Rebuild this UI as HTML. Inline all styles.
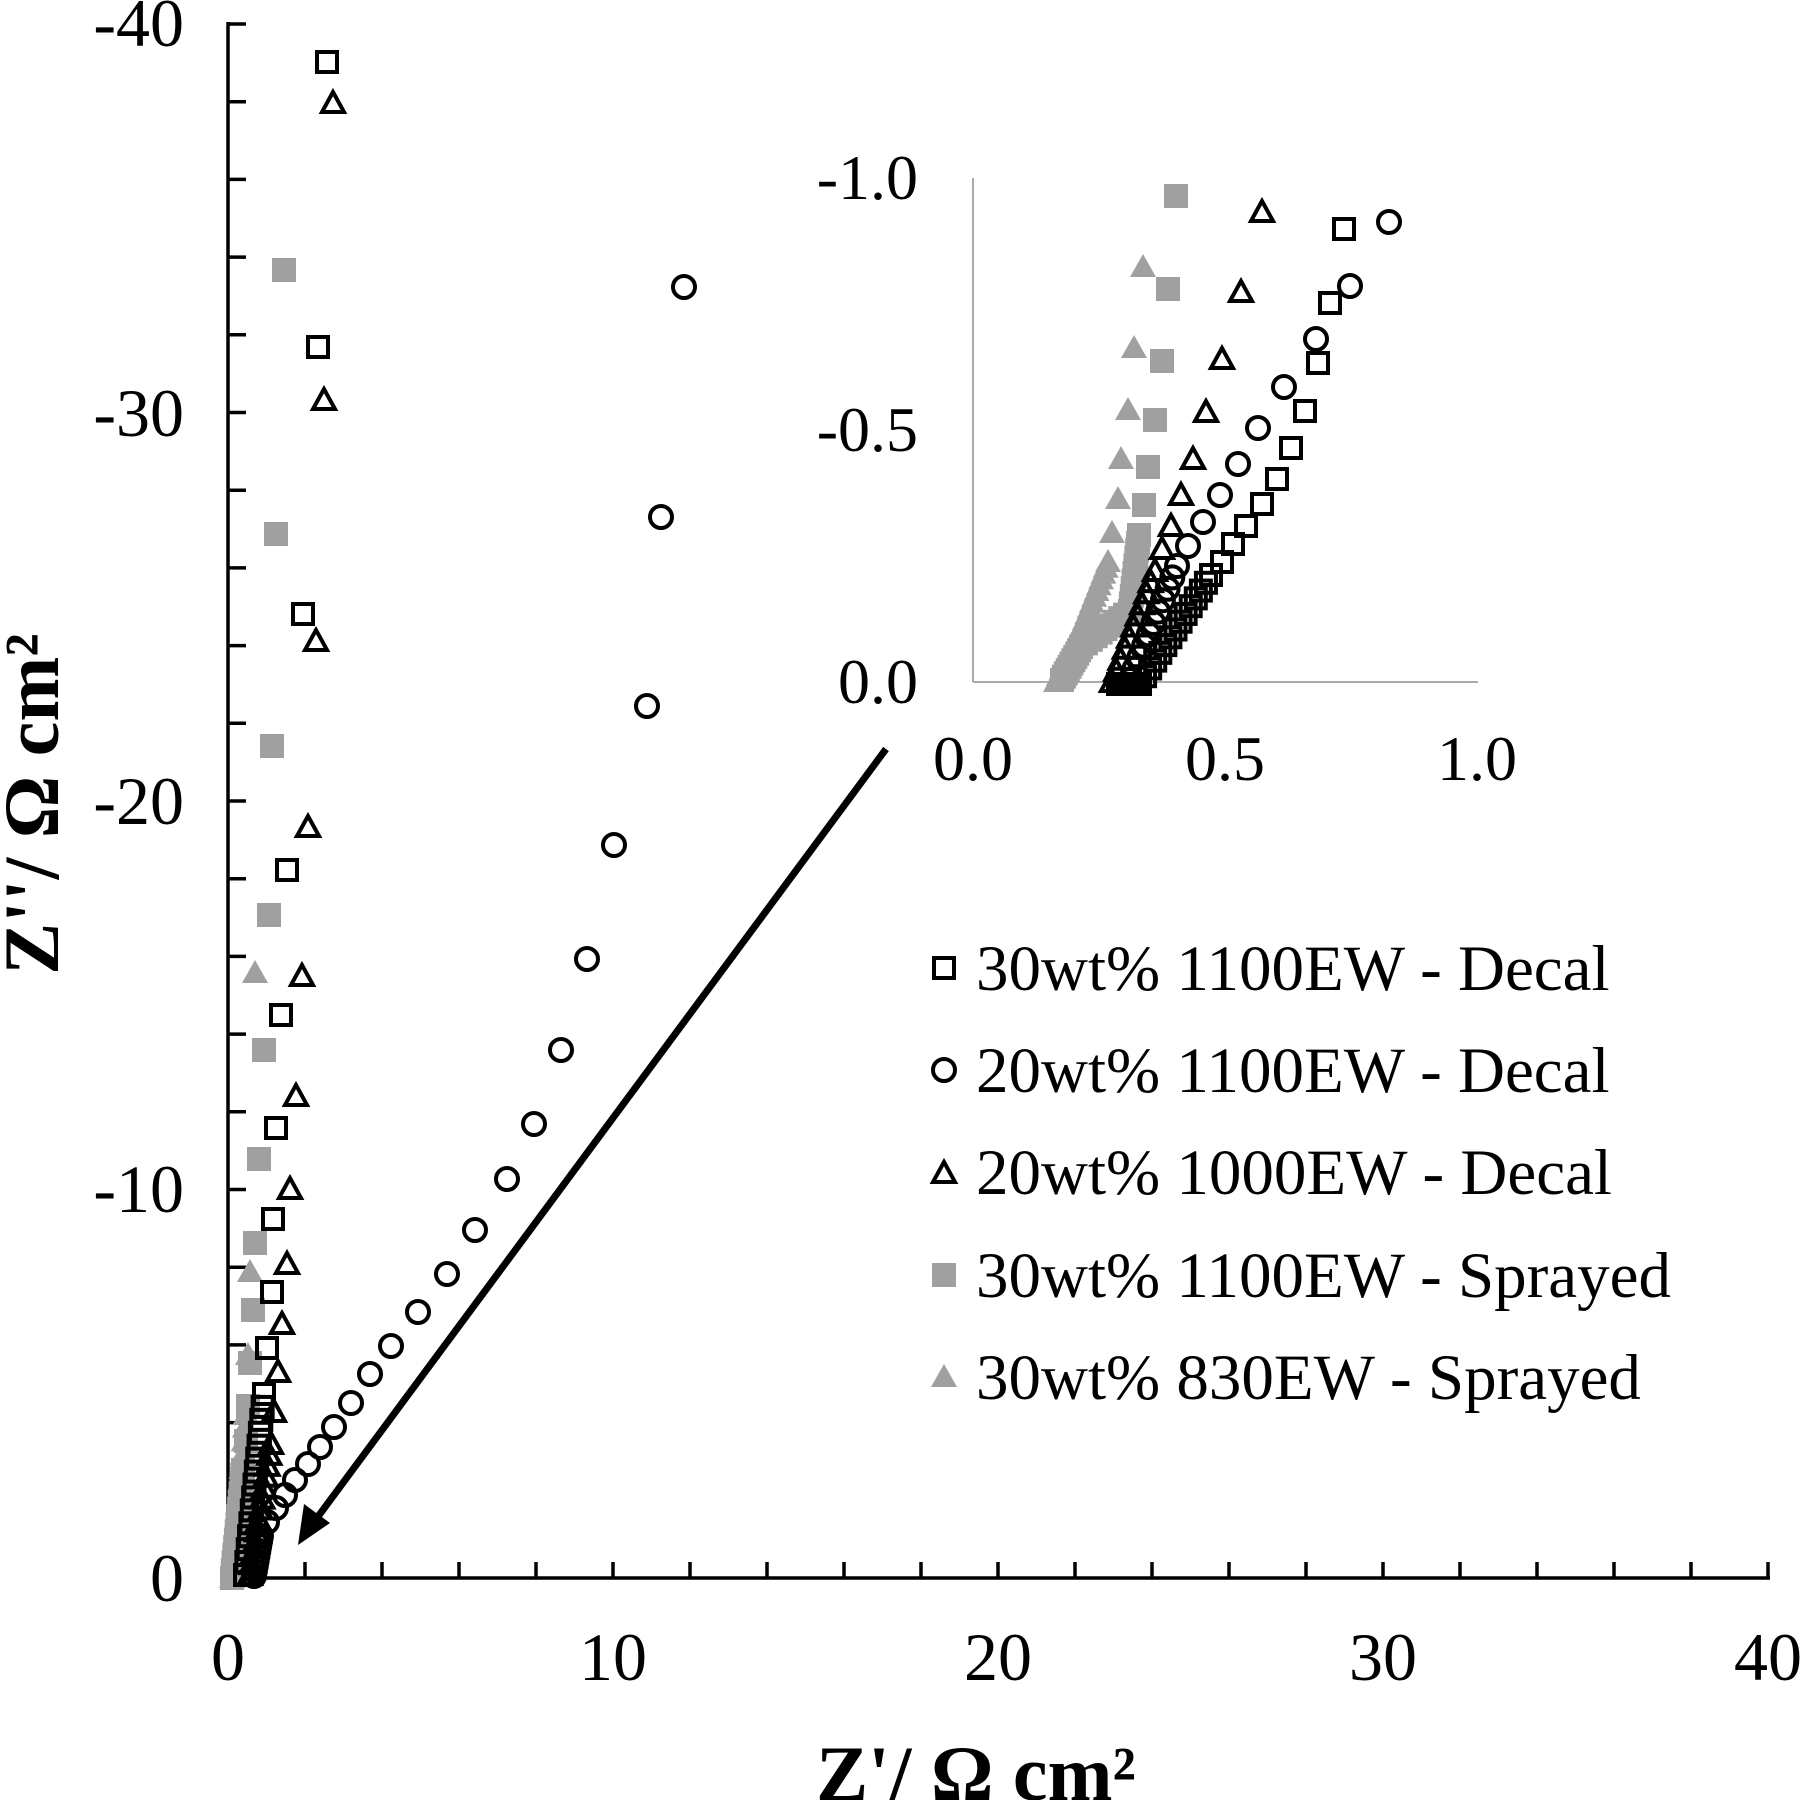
<!DOCTYPE html>
<html><head><meta charset="utf-8"><style>
html,body{margin:0;padding:0;background:#fff}
svg{display:block}
text{font-family:"Liberation Serif",serif}
</style></head><body>
<svg id="s" width="1800" height="1800" viewBox="0 0 1800 1800" xmlns="http://www.w3.org/2000/svg">
<g id="axes" stroke="#000" stroke-width="3.5" fill="none">
<line x1="228" y1="22" x2="228" y2="1580"/>
<line x1="226" y1="1578" x2="1770" y2="1578"/>
</g>
<g id="ticks" stroke="#000" stroke-width="3.5"></g>
<g font-size="68" text-anchor="end" fill="#000">
<text x="184" y="46">-40</text>
<text x="184" y="436">-30</text>
<text x="184" y="824">-20</text>
<text x="184" y="1212">-10</text>
<text x="184" y="1601">0</text>
</g>
<g font-size="68" text-anchor="middle" fill="#000">
<text x="228" y="1680">0</text>
<text x="613" y="1680">10</text>
<text x="998" y="1680">20</text>
<text x="1383" y="1680">30</text>
<text x="1768" y="1680">40</text>
</g>
<text x="976" y="1800" font-size="78" font-weight="bold" text-anchor="middle">Z'/ Ω cm²</text>
<text transform="translate(58,804) rotate(-90)" font-size="78" font-weight="bold" text-anchor="middle">Z''/ Ω cm²</text>
<!-- inset -->
<g stroke="#aaa" stroke-width="2">
<line x1="973" y1="178" x2="973" y2="682"/>
<line x1="973" y1="682" x2="1478" y2="682"/>
</g>
<g font-size="64" text-anchor="end">
<text x="918" y="199">-1.0</text>
<text x="918" y="451">-0.5</text>
<text x="918" y="703">0.0</text>
</g>
<g font-size="64" text-anchor="middle">
<text x="973" y="780">0.0</text>
<text x="1225" y="780">0.5</text>
<text x="1477" y="780">1.0</text>
</g>
<!-- arrow -->
<line x1="886" y1="749" x2="314" y2="1522" stroke="#000" stroke-width="7"/>
<polygon points="298,1545 304,1504 330,1523" fill="#000"/>
<g id="pts"></g>
<!-- legend -->
<g font-size="65">
<text x="976" y="990">30wt% 1100EW - Decal</text>
<text x="976" y="1092">20wt% 1100EW - Decal</text>
<text x="976" y="1194">20wt% 1000EW - Decal</text>
<text x="976" y="1297">30wt% 1100EW - Sprayed</text>
<text x="976" y="1399">30wt% 830EW - Sprayed</text>
</g>
</svg>
<script>
var NS="http://www.w3.org/2000/svg";
var tk=document.getElementById('ticks');
function ln(g,a,b,c,d){var l=document.createElementNS(NS,'line');l.setAttribute('x1',a);l.setAttribute('y1',b);l.setAttribute('x2',c);l.setAttribute('y2',d);g.appendChild(l);}
for(var i=0;i<=20;i++){var y=1578-i*77.7;ln(tk,228,y,246,y);var x=228+i*77;ln(tk,x,1578,x,1562);}
var P=document.getElementById('pts');
function mk(t,x,y){var e;
 if(t=='sq'){e=document.createElementNS(NS,'rect');e.setAttribute('x',x-10);e.setAttribute('y',y-10);e.setAttribute('width',20);e.setAttribute('height',20);e.setAttribute('fill','none');e.setAttribute('stroke','#000');e.setAttribute('stroke-width',4);}
 else if(t=='ci'){e=document.createElementNS(NS,'circle');e.setAttribute('cx',x);e.setAttribute('cy',y);e.setAttribute('r',11);e.setAttribute('fill','none');e.setAttribute('stroke','#000');e.setAttribute('stroke-width',4);}
 else if(t=='tr'){e=document.createElementNS(NS,'polygon');e.setAttribute('points',(x)+','+(y-11)+' '+(x-11)+','+(y+9)+' '+(x+11)+','+(y+9));e.setAttribute('fill','none');e.setAttribute('stroke','#000');e.setAttribute('stroke-width',4);}
 else if(t=='gs'){e=document.createElementNS(NS,'rect');e.setAttribute('x',x-12);e.setAttribute('y',y-12);e.setAttribute('width',24);e.setAttribute('height',24);e.setAttribute('fill','#a0a0a0');}
 else {e=document.createElementNS(NS,'polygon');e.setAttribute('points',(x)+','+(y-13)+' '+(x-13)+','+(y+10)+' '+(x+13)+','+(y+10));e.setAttribute('fill','#a0a0a0');}
 P.appendChild(e);}
function series(t,pts,tail,n){pts.forEach(function(p){mk(t,p[0],p[1]);});
 if(tail){var a=pts[pts.length-1];for(var k=0;k<tail.length;k++){var b=tail[k];for(var j=1;j<=n;j++){mk(t,a[0]+(b[0]-a[0])*j/n,a[1]+(b[1]-a[1])*j/n);}a=b;}}}
// main
series('gs',[[284,270],[276,534],[272,746],[269,915],[264,1050],[259,1159],[255,1243],[253,1310],[250,1363],[248,1406],[246,1441],[243,1470]],[[232,1578]],14);
series('gt',[[255,973],[250,1272],[248,1355],[246,1414]],[[232,1578]],12);
series('sq',[[327,62],[318,347],[303,614],[287,870],[281,1015],[276,1128],[273,1219],[272,1292],[267,1348],[264,1394]],[[245,1575]],14);
series('tr',[[333,103],[324,400],[316,641],[308,827],[302,976],[296,1096],[290,1189],[287,1264],[282,1324],[278,1372],[274,1412],[271,1444]],[[250,1575]],12);
series('ci',[[684,287],[661,517],[647,706],[614,845],[587,959],[561,1050],[534,1124],[507,1179],[475,1230],[447,1274],[418,1312],[391,1346],[370,1374],[351,1403],[334,1427],[320,1447],[308,1464],[295,1480],[285,1495],[276,1508],[267,1522],[261,1536]],[[254,1576]],8);
// inset
series('gs',[[1176,196],[1168,289],[1162,361],[1155,420],[1148,467],[1144,505],[1139,535]],[[1130,611],[1081,647],[1062,680]],10);
series('gt',[[1143,267],[1134,348],[1128,410],[1121,459],[1118,499],[1112,533],[1108,562]],[[1085,620],[1056,682]],10);
series('sq',[[1344,229],[1330,303],[1318,363],[1305,411],[1291,448],[1277,479],[1262,504],[1246,526],[1233,544],[1222,562],[1211,575]],[[1140,684],[1118,684]],14);
series('ci',[[1389,222],[1350,286],[1316,339],[1284,387],[1258,428],[1238,464],[1220,495],[1203,522],[1188,546],[1177,566]],[[1130,680]],10);
series('tr',[[1262,212],[1241,292],[1222,359],[1206,412],[1193,459],[1181,495],[1171,526],[1162,549],[1155,571]],[[1112,682]],10);
// legend markers
mk('sq',944,968);mk('ci',944,1070);mk('tr',944,1173);mk('gs',944,1275);mk('gt',944,1377);
</script>
</body></html>
